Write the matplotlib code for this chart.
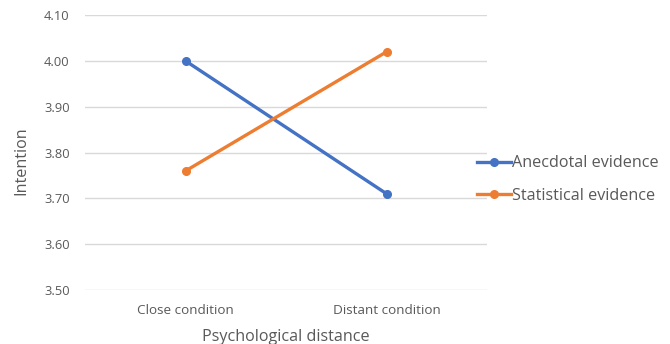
import matplotlib.pyplot as plt

conditions = ["Close condition", "Distant condition"]
anecdotal = [4.00, 3.71]
statistical = [3.76, 4.02]
yticks = [3.50, 3.60, 3.70, 3.80, 3.90, 4.00, 4.10]

plt.rcParams['font.family'] = ['Open Sans', 'DejaVu Sans']

fig = plt.figure(figsize=(6.7, 3.44), dpi=100)
ax = fig.add_axes([0.127, 0.157, 0.6, 0.799])

x = range(len(conditions))
ax.plot(x, anecdotal, color='#4472C4', lw=2.4, marker='o', ms=5.5,
        label='Anecdotal evidence', zorder=3)
ax.plot(x, statistical, color='#ED7D31', lw=2.4, marker='o', ms=5.5,
        label='Statistical evidence', zorder=3)

ax.set_xlim(-0.5, 1.5)
ax.set_ylim(3.5, 4.1)
ax.set_yticks(yticks)
ax.set_yticklabels([f"{v:.2f}" for v in yticks])
ax.set_xticks(list(x))
ax.set_xticklabels(conditions)
ax.grid(axis='y', color='#d9d9d9', lw=1)
ax.set_axisbelow(True)
for s in ax.spines.values():
    s.set_visible(False)
ax.tick_params(length=0, colors='#595959', labelsize=9.3)
ax.tick_params(axis='y', pad=11)
ax.tick_params(axis='x', labelsize=9.7, pad=10)

ax.set_ylabel('Intention', color='#595959', fontsize=11.6)
ax.yaxis.set_label_coords(-0.138, 0.47)
ax.set_xlabel('Psychological distance', color='#595959', fontsize=11.6, labelpad=9)

leg = ax.legend(loc='center left', bbox_to_anchor=(0.94, 0.402), frameon=False,
                fontsize=11.6, handlelength=2.1, handletextpad=0.05,
                labelspacing=1.0, labelcolor='#595959')

fig.savefig('out.png', dpi=100)
